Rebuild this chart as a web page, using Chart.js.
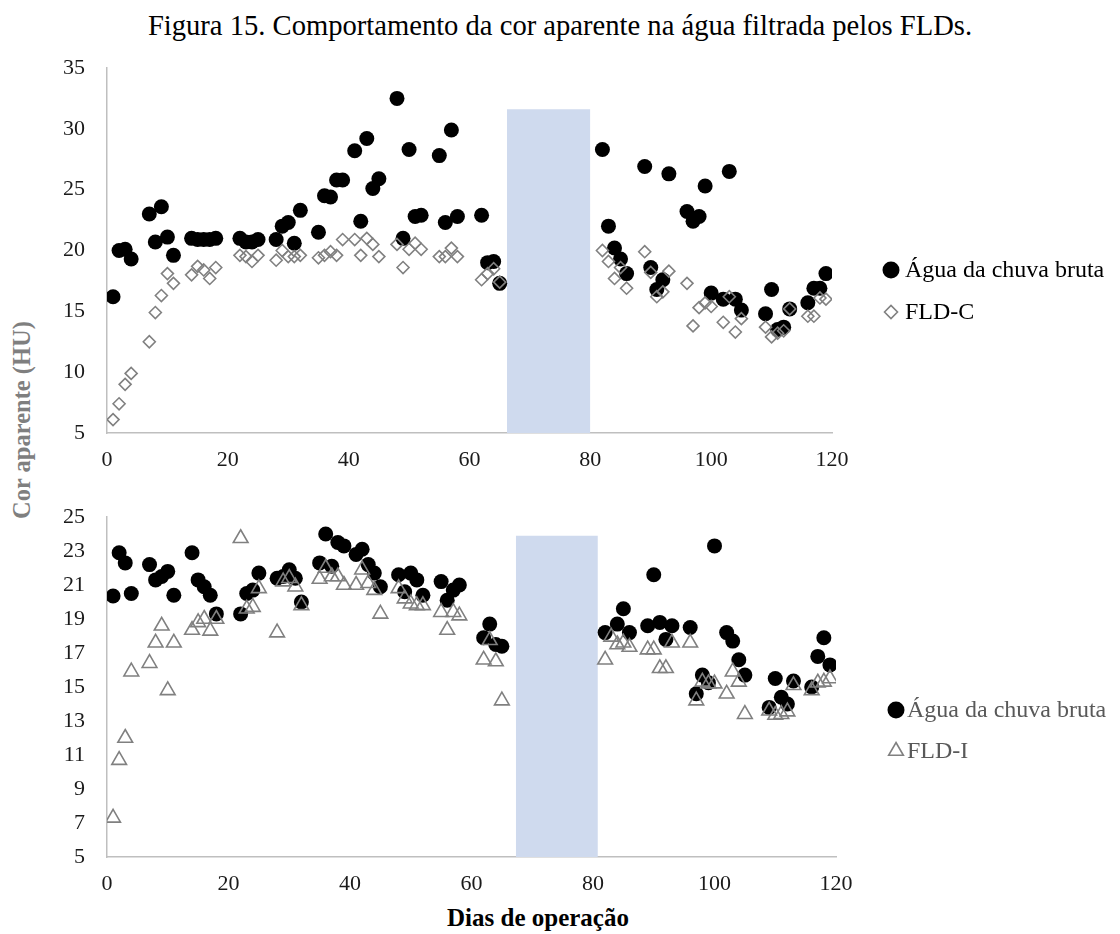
<!DOCTYPE html>
<html>
<head>
<meta charset="utf-8">
<script src="https://cdn.jsdelivr.net/npm/chart.js"></script>
<style>
  body { margin: 0; background: #fff; }
  #wrap { position: relative; width: 1120px; height: 934px; font-family: "Liberation Serif", "Times New Roman", serif; }
  canvas { position: absolute; left: 0; }
  .txt { position: absolute; white-space: nowrap; }
</style>
</head>
<body>
<div id="wrap">
  <div class="txt" id="titulo" style="left:560px; top:10px; transform:translateX(-50%); font-size:28.6px; line-height:32px; color:#000;">Figura 15. Comportamento da cor aparente na água filtrada pelos FLDs.</div>
  <div class="txt" style="left:22px; top:420px; transform:translate(-50%,-50%) rotate(-90deg); font-size:24.5px; font-weight:bold; color:#7f7f7f;">Cor aparente (HU)</div>
  <div class="txt" style="left:538px; top:904px; transform:translateX(-50%); font-size:25px; line-height:28px; font-weight:bold; color:#000;">Dias de operação</div>
  <canvas id="topo" width="1120" height="480" style="top:0"></canvas>
  <canvas id="base" width="1120" height="454" style="top:480px"></canvas>
</div>
<script>
// dias de operação (eixo x), iguais nos dois gráficos
const dias = [1,2,3,4, 7,8,9,10,11, 14,15,16,17,18, 22,23,24,25, 28,29,30,31,32,
  35,36,37,38,39, 41,42,43,44,45, 48,49,50,51,52, 55,56,57,58, 62,63,64,65,
  82,83,84,85,86, 89,90,91,92,93, 96,97,98,99,100, 102,103,104,105,
  109,110,111,112,113, 116,117,118,119];

// gráfico de cima
const aguaTopo = [16.2,20.0,20.1,19.3, 23.0,20.7,23.6,21.1,19.6, 21.0,20.9,20.9,20.9,21.0,
  21.0,20.7,20.7,20.9, 20.9,22.0,22.3,20.6,23.3, 21.5,24.5,24.4,25.8,25.8,
  28.2,22.4,29.2,25.1,25.9, 32.5,21.0,28.3,22.8,22.9, 27.8,22.3,29.9,22.8, 22.9,19.0,19.1,17.3,
  28.3,22.0,20.2,19.3,18.1, 26.9,18.6,16.8,17.6,26.3, 23.2,22.4,22.8,25.3,16.5,
  16.0,26.5,16.0,15.1, 14.8,16.8,13.5,13.7,15.2, 15.7,16.9,16.9,18.1];
const fldC = [6.1,7.4,9.0,9.9, 12.5,14.9,16.3,18.1,17.3, 18.0,18.7,18.4,17.7,18.6,
  19.6,19.5,19.1,19.6, 19.2,20.0,19.5,19.5,19.6, 19.4,19.6,19.9,19.6,20.9,
  20.9,19.6,21.0,20.5,19.5, 20.5,18.6,20.1,20.6,20.1, 19.5,19.5,20.2,19.5, 17.6,18.1,18.5,17.4,
  20.0,19.1,17.7,18.6,16.9, 19.9,18.2,16.2,16.6,18.3, 17.3,13.8,15.3,15.7,15.4,
  14.1,16.2,13.3,14.4, 13.7,12.9,13.2,13.4,15.2, 14.6,14.6,16.1,16.0];

// gráfico de baixo
const aguaBase = [20.35,22.9,22.3,20.5, 22.2,21.3,21.5,21.8,20.4, 22.9,21.3,20.9,20.4,19.3,
  19.3,20.5,20.7,21.7, 21.4,21.5,21.9,21.4,20.0, 22.3,24.0,22.1,23.5,23.3,
  22.8,23.1,22.2,21.7,20.9, 21.6,20.6,21.7,21.3,20.4, 21.2,20.1,20.7,21.0, 17.9,18.7,17.5,17.4,
  18.2,null,18.7,19.6,18.2, 18.6,21.6,18.8,17.8,18.6, 18.5,14.6,15.7,15.25,23.3,
  18.2,17.7,16.6,15.7, 13.8,15.5,14.4,14.0,15.35, 15.0,16.8,17.9,16.3];
const fldI = [7.3,10.7,12.0,15.9, 16.4,17.6,18.6,14.8,17.6, 18.35,18.8,19.0,18.3,19.0,
  23.75,19.6,19.7,20.8, 18.2,21.2,21.4,20.9,19.8, 21.35,22.0,21.5,21.5,21.0,
  21.0,21.9,21.1,20.7,19.3, 20.8,20.2,19.9,19.8,19.8, 19.4,18.35,19.4,19.2, 16.6,17.75,16.5,14.2,
  16.6,17.95,17.5,17.6,17.35, 17.2,17.2,16.1,16.1,17.6, 17.6,14.2,15.3,15.2,15.2,
  14.6,15.9,15.3,13.4, 13.6,13.35,13.4,13.55,15.1, 14.8,15.25,15.3,15.5];

// período sem operação: [início, fim, altura]
const pausaTopo = [66.2, 80.0, 31.6];
const pausaBase = [67.3, 80.8, 23.9];

const xTicks = [0, 20, 40, 60, 80, 100, 120];
const yTicksTopo = [5, 10, 15, 20, 25, 30, 35];
const yTicksBase = [5, 7, 9, 11, 13, 15, 17, 19, 21, 23, 25];

const fonte = "'Liberation Serif', 'Times New Roman', serif";

function pts(ys) {
  return dias.map((d, i) => ({x: d, y: ys[i]})).filter(p => p.y !== null);
}

// legenda desenhada à direita do gráfico
const legendaLateral = {
  id: 'legendaLateral',
  afterDraw(chart, args, opts) {
    const ctx = chart.ctx;
    const area = chart.chartArea;
    ctx.save();
    ctx.font = opts.size + 'px ' + fonte;
    ctx.textBaseline = 'middle';
    opts.items.forEach((idx, k) => {
      const ds = chart.data.datasets[idx];
      const x = area.right + opts.dx;
      const y = area.top + opts.dy[k];
      ctx.fillStyle = ds.backgroundColor;
      ctx.strokeStyle = ds.borderColor;
      ctx.lineWidth = ds.borderWidth;
      Chart.helpers.drawPoint(ctx, {pointStyle: ds.pointStyle, radius: opts.radius[k], rotation: 0, borderWidth: ds.borderWidth}, x, y);
      ctx.fillStyle = opts.color;
      ctx.fillText(ds.label, x + opts.tx, y + 1);
    });
    ctx.restore();
  }
};

function grafico(id, cfg) {
  return new Chart(document.getElementById(id), {
    type: 'scatter',
    data: {
      datasets: [
        {
          label: cfg.nomeFiltro,
          data: pts(cfg.filtro),
          pointStyle: cfg.simbolo,
          pointRadius: cfg.raio,
          backgroundColor: 'rgba(0,0,0,0)',
          borderColor: '#808080',
          borderWidth: 1.6,
          order: 0
        },
        {
          label: 'Água da chuva bruta',
          data: pts(cfg.agua),
          pointStyle: 'circle',
          pointRadius: 7.5,
          backgroundColor: '#000',
          borderColor: '#000',
          borderWidth: 0,
          order: 1
        },
        {
          type: 'line',
          label: 'pausa',
          data: [{x: cfg.pausa[0], y: cfg.pausa[2]}, {x: cfg.pausa[1], y: cfg.pausa[2]}],
          showLine: true,
          fill: 'start',
          backgroundColor: '#cfdaee',
          borderWidth: 0,
          pointRadius: 0,
          order: 2
        }
      ]
    },
    options: {
      responsive: false,
      animation: false,
      events: [],
      layout: {padding: cfg.padding},
      plugins: {
        legend: {display: false},
        tooltip: {enabled: false},
        legendaLateral: cfg.legenda
      },
      scales: {
        x: {
          type: 'linear',
          min: 0, max: 120,
          afterBuildTicks: s => { s.ticks = xTicks.map(v => ({value: v})); },
          afterFit: s => { s.height = 47; },
          grid: {display: false, drawTicks: false},
          border: {display: true, color: '#bfbfbf', width: 1.5},
          ticks: {font: {family: fonte, size: 22}, color: '#1a1a1a', padding: 14, maxRotation: 0}
        },
        y: {
          type: 'linear',
          min: cfg.yTicks[0], max: cfg.yTicks[cfg.yTicks.length - 1],
          afterBuildTicks: s => { s.ticks = cfg.yTicks.map(v => ({value: v})); },
          afterFit: s => { s.width = 107; },
          grid: {display: false, drawTicks: false},
          border: {display: true, color: '#bfbfbf', width: 1.5},
          ticks: {font: {family: fonte, size: 22}, color: '#1a1a1a', padding: 22}
        }
      }
    },
    plugins: [legendaLateral]
  });
}

grafico('topo', {
  agua: aguaTopo, filtro: fldC, nomeFiltro: 'FLD-C', simbolo: 'rectRot', raio: 6,
  pausa: pausaTopo, yTicks: yTicksTopo,
  padding: {top: 68, right: 288, bottom: 0, left: 0},
  legenda: {items: [1, 0], dx: 59, dy: [202, 244], radius: [8.5, 6.5], tx: 14, size: 24, color: '#000'}
});

grafico('base', {
  agua: aguaBase, filtro: fldI, nomeFiltro: 'FLD-I', simbolo: 'triangle', raio: 8.5,
  pausa: pausaBase, yTicks: yTicksBase,
  padding: {top: 37, right: 284, bottom: 30, left: 0},
  legenda: {items: [1, 0], dx: 60, dy: [193, 234], radius: [8.5, 8.5], tx: 11, size: 24, color: '#595959'}
});
</script>
</body>
</html>
